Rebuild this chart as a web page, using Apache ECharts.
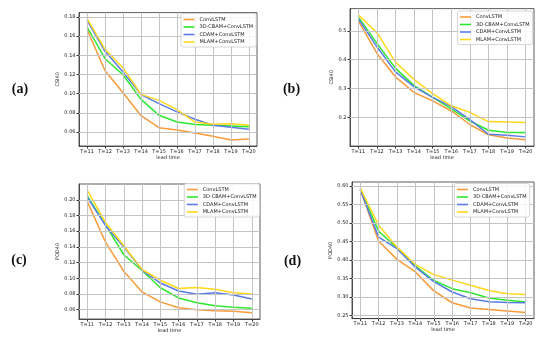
<!DOCTYPE html>
<html><head><meta charset="utf-8">
<script src="https://cdn.jsdelivr.net/npm/echarts@6/dist/echarts.min.js"></script>
<style>html,body{margin:0;padding:0;background:#fff}#c{width:550px;height:340px}</style>
</head><body><div id="c"></div>
<script>
const leads = [11, 12, 13, 14, 15, 16, 17, 18, 19, 20];
const xLabels = ['T=11','T=12','T=13','T=14','T=15','T=16','T=17','T=18','T=19','T=20'];
const seriesNames = ['ConvLSTM','3D-CBAM+ConvLSTM','CDAM+ConvLSTM','MLAM+ConvLSTM'];
const seriesColors = ['#F99B3A','#2EE82E','#5A7BE6','#FFD81A'];

// (a) CSI40
const aConvLSTM = [0.167,0.124,0.101,0.077,0.0645,0.062,0.059,0.0555,0.0517,0.0527];
const aCBAM     = [0.1696,0.1365,0.1198,0.094,0.0774,0.0704,0.0677,0.067,0.0663,0.0655];
const aCDAM     = [0.1765,0.1442,0.1226,0.099,0.0896,0.081,0.0733,0.067,0.065,0.0628];
const aMLAM     = [0.1783,0.1463,0.1268,0.0993,0.093,0.0833,0.0704,0.068,0.0687,0.067];
// (b) CSI40
const bConvLSTM = [0.535,0.422,0.340,0.286,0.257,0.222,0.175,0.139,0.128,0.122];
const bCBAM     = [0.548,0.457,0.370,0.310,0.269,0.229,0.187,0.155,0.147,0.147];
const bCDAM     = [0.542,0.445,0.358,0.306,0.269,0.237,0.192,0.141,0.138,0.132];
const bMLAM     = [0.556,0.494,0.392,0.331,0.282,0.240,0.217,0.185,0.184,0.182];
// (c) POD40
const cConvLSTM = [0.198,0.146,0.109,0.0826,0.070,0.0625,0.060,0.0587,0.058,0.056];
const cCBAM     = [0.205,0.168,0.130,0.110,0.088,0.075,0.069,0.065,0.063,0.062];
const cCDAM     = [0.2035,0.167,0.140,0.1105,0.094,0.0838,0.0796,0.0817,0.0787,0.0736];
const cMLAM     = [0.2123,0.171,0.1414,0.1112,0.0976,0.087,0.0883,0.086,0.0817,0.080];
// (d) POD40
const dConvLSTM = [0.5905,0.451,0.402,0.368,0.317,0.285,0.271,0.267,0.263,0.259];
const dCBAM     = [0.592,0.478,0.433,0.384,0.345,0.323,0.312,0.298,0.292,0.287];
const dCDAM     = [0.590,0.462,0.431,0.381,0.342,0.314,0.296,0.288,0.286,0.285];
const dMLAM     = [0.594,0.494,0.435,0.388,0.361,0.346,0.332,0.318,0.309,0.307];

const yTicksA = [0.06,0.08,0.10,0.12,0.14,0.16,0.18];
const yTicksB = [0.2,0.3,0.4,0.5];
const yTicksC = [0.06,0.08,0.10,0.12,0.14,0.16,0.18,0.20];
const yTicksD = [0.25,0.30,0.35,0.40,0.45,0.50,0.55,0.60];
const yNames = ['CSI40','CSI40','POD40','POD40'];
const panelLabels = ['(a)','(b)','(c)','(d)'];

const panels = [
  {data:[aConvLSTM,aCBAM,aCDAM,aMLAM], ticks:yTicksA, dec:2,
   grid:{left:79, top:12.6, width:178, height:133.4}, nameGap:[18,9],
   legend:{left:181, top:13.5}, label:[20,89]},
  {data:[bConvLSTM,bCBAM,bCDAM,bMLAM], ticks:yTicksB, dec:1,
   grid:{left:350, top:8.6, width:184, height:137.4}, nameGap:[16,9],
   legend:{left:457.5, top:11}, label:[291.5,89]},
  {data:[cConvLSTM,cCBAM,cCDAM,cMLAM], ticks:yTicksC, dec:2,
   grid:{left:79, top:184, width:181, height:135}, nameGap:[18,9],
   legend:{left:184.3, top:183.5}, label:[19,260]},
  {data:[dConvLSTM,dCBAM,dCDAM,dMLAM], ticks:yTicksD, dec:2,
   grid:{left:352, top:182, width:182, height:136.6}, nameGap:[17,9],
   legend:{left:454.5, top:183.5}, label:[292.5,261]}
];

const FONT = 'DejaVu Sans';
const TXT = '#222';
const FS = 5;
const option = {
  animation:false,
  backgroundColor:'#fff',
  grid:[], xAxis:[], yAxis:[], series:[], legend:[], graphic:[]
};

panels.forEach((p, i) => {
  option.grid.push(Object.assign({show:true, borderColor:'#333', borderWidth:0.8, backgroundColor:'transparent'}, p.grid));
  option.xAxis.push({
    type:'value', gridIndex:i, min:10.55, max:20.45,
    name:'lead time', nameLocation:'middle', nameGap:p.nameGap[1],
    nameTextStyle:{fontFamily:FONT, fontSize:FS, color:TXT},
    axisLine:{show:true, onZero:false, lineStyle:{color:'#333', width:0.8}},
    axisTick:{show:true, length:2.5, customValues:leads, lineStyle:{color:'#333', width:1}},
    axisLabel:{customValues:leads, margin:3, fontFamily:FONT, fontSize:FS, color:TXT,
      formatter:v => xLabels[leads.indexOf(Math.round(v))] || ''},
    splitLine:{show:false}
  });
  const all = [].concat(...p.data);
  const mn = Math.min(...all), mx = Math.max(...all), pad = (mx - mn) * 0.05;
  option.yAxis.push({
    type:'value', gridIndex:i, min:mn - pad, max:mx + pad,
    name:yNames[i], nameLocation:'middle', nameGap:p.nameGap[0],
    nameTextStyle:{fontFamily:FONT, fontSize:FS, color:TXT},
    axisLine:{show:true, onZero:false, lineStyle:{color:'#333', width:0.8}},
    axisTick:{show:true, length:2.5, customValues:p.ticks, lineStyle:{color:'#333', width:1}},
    axisLabel:{customValues:p.ticks, margin:3.5, fontFamily:FONT, fontSize:FS, color:TXT,
      formatter:v => v.toFixed(p.dec)},
    splitLine:{show:false}
  });
  // gridlines at the tick values, placed through the axes' scales
  option.series.push({
    type:'line', name:'gridlines' + i, xAxisIndex:i, yAxisIndex:i, z:1, silent:true,
    data: leads.map((t, j) => [t, p.data[0][j]]),
    showSymbol:false, symbol:'none', lineStyle:{color:'#ffffff', width:0, opacity:0},
    markLine:{silent:true, symbol:['none','none'], animation:false,
      label:{show:false},
      lineStyle:{color:'#c4c4c4', width:1, type:'solid', opacity:1},
      data:[...leads.map(v => ({xAxis:v})), ...p.ticks.map(v => ({yAxis:v}))]}
  });
  p.data.forEach((vals, k) => {
    option.series.push({
      type:'line', name:seriesNames[k], xAxisIndex:i, yAxisIndex:i, z:3,
      data: leads.map((t, j) => [t, vals[j]]),
      showSymbol:false, symbol:'none',
      lineStyle:{color:seriesColors[k], width:1.5},
      itemStyle:{color:seriesColors[k]}
    });
  });
  option.legend.push({
    orient:'vertical', left:p.legend.left, top:p.legend.top, z:10,
    data:seriesNames, icon:'rect', itemWidth:11, itemHeight:1.6, itemGap:1.5,
    padding:[3,3,2,2.5], backgroundColor:'rgba(255,255,255,0.85)',
    borderColor:'#ccc', borderWidth:0.8, borderRadius:2,
    textStyle:{fontFamily:FONT, fontSize:FS, color:TXT, lineHeight:6},
    selectedMode:false
  });
  option.graphic.push({
    type:'text', x:p.label[0], y:p.label[1],
    style:{text:panelLabels[i], fontFamily:'Liberation Serif', fontSize:14, fontWeight:'bold',
      fill:'#111', textAlign:'center', textVerticalAlign:'middle'}
  });
});

const chart = echarts.init(document.getElementById('c'), null, {renderer:'canvas'});
chart.setOption(option);
</script></body></html>
